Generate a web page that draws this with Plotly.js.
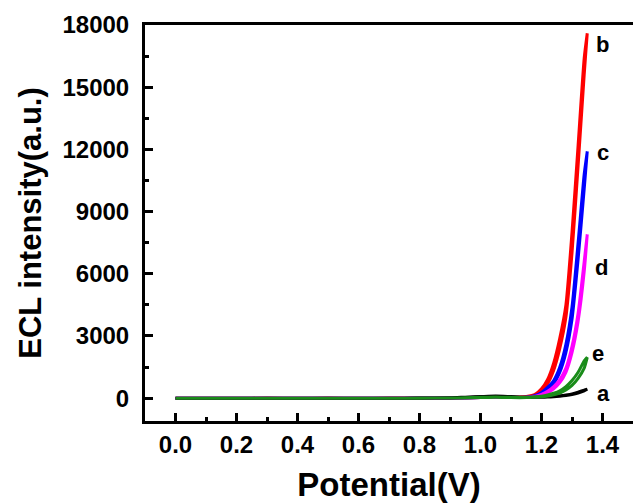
<!DOCTYPE html>
<html>
<head>
<meta charset="utf-8">
<script src="https://cdn.plot.ly/plotly-3.0.1.min.js"></script>
<style>html,body{margin:0;padding:0;background:#fff;}#chart{width:633px;height:503px;}</style>
</head>
<body>
<div id="chart"></div>
<script>
// Potential (V) sampling points, shared by forward and reverse scans
var potential = [0, 0.1, 0.2, 0.3, 0.4, 0.5, 0.6, 0.7, 0.8, 0.9, 0.95, 1.0, 1.05, 1.1, 1.15, 1.18, 1.2, 1.22, 1.24, 1.26, 1.28, 1.3, 1.32, 1.34, 1.35];

// ECL intensity (a.u.), forward and reverse scans
var a_fwd = [0, 0, 0, 0, 0, 0, 0, 0, 5, 20, 50, 80, 110, 80, 50, 50, 60, 70, 90, 120, 160, 210, 290, 390, 430];
var a_rev = [0, 0, 0, 0, 0, 0, 0, 0, 0, 10, 30, 60, 90, 60, 40, 40, 45, 55, 70, 95, 130, 180, 250, 350, 430];
var b_fwd = [0, 0, 0, 5, 0, 5, 0, 5, 5, 10, 20, 40, 60, 40, 80, 200, 450, 900, 1700, 2900, 4500, 8000, 12200, 16400, 17600];
var b_rev = [0, 0, 0, 0, 0, 0, 0, 0, 5, 10, 15, 30, 50, 30, 60, 150, 330, 700, 1350, 2400, 3900, 7000, 11200, 15600, 17600];
var c_fwd = [0, 0, 0, 0, 0, 0, 0, 0, 5, 10, 20, 40, 60, 40, 50, 130, 280, 520, 850, 1500, 2600, 4400, 7500, 10800, 11900];
var c_rev = [0, 0, 0, 0, 0, 0, 0, 0, 0, 10, 15, 30, 50, 30, 40, 100, 220, 420, 700, 1250, 2200, 3800, 6700, 10100, 11900];
var d_fwd = [0, 0, 0, 0, 0, 0, 0, 0, 5, 10, 20, 40, 60, 40, 40, 90, 180, 330, 560, 900, 1450, 2500, 4100, 6600, 7900];
var d_rev = [0, 0, 0, 0, 0, 0, 0, 0, 0, 10, 15, 30, 50, 30, 35, 70, 140, 260, 450, 750, 1250, 2200, 3700, 6100, 7900];
var e_fwd = [0, 0, 0, 0, 0, 0, 0, 0, 5, 10, 20, 40, 60, 40, 40, 70, 100, 160, 240, 360, 560, 850, 1250, 1800, 1970];
var e_rev = [0, 0, 0, 0, 0, 0, 0, 0, 0, 10, 15, 30, 50, 30, 30, 50, 70, 110, 170, 250, 400, 620, 960, 1450, 1970];

var curveNames = ['b', 'c', 'd', 'a', 'e'];
var curveFwd = [b_fwd, c_fwd, d_fwd, a_fwd, e_fwd];
var curveRev = [b_rev, c_rev, d_rev, a_rev, e_rev];
var curveColors = ['#ff0000', '#0000ff', '#ff00ff', '#000000', '#1a8c1a'];

// label tags and where they sit (data coords)
var labelText = ['b', 'c', 'd', 'e', 'a'];
var labelX = [1.40, 1.40, 1.397, 1.385, 1.403];
var labelY = [17050, 11850, 6300, 2150, 250];

var xTickVals = [0, 0.2, 0.4, 0.6, 0.8, 1.0, 1.2, 1.4];
var yTickVals = [0, 3000, 6000, 9000, 12000, 15000, 18000];

var potRev = potential.slice().reverse();
var traces = [];
for (var i = 0; i < curveNames.length; i++) {
  traces.push({
    x: potential.concat(potRev),
    y: curveFwd[i].concat(curveRev[i].slice().reverse()),
    type: 'scatter', mode: 'lines', name: curveNames[i],
    line: {color: curveColors[i], width: 3, shape: 'spline', smoothing: 0.6},
    hoverinfo: 'skip'
  });
}

var fam = '"Liberation Sans", Arial, sans-serif';
var annotations = labelText.map(function (t, k) {
  return {x: labelX[k], y: labelY[k], xref: 'x', yref: 'y', text: t, showarrow: false,
    font: {family: fam, size: 22, color: '#000', weight: 'bold'}};
});

var layout = {
  width: 633, height: 503,
  margin: {l: 145, r: 0, t: 25, b: 82},
  paper_bgcolor: '#fff', plot_bgcolor: '#fff',
  showlegend: false,
  font: {family: fam, color: '#000'},
  xaxis: {
    range: [-0.1, 1.5], tickvals: xTickVals, tickformat: '.1f',
    ticks: 'inside', ticklen: 8, tickwidth: 3, tickcolor: '#000',
    minor: {dtick: 0.1, tick0: 0, ticks: 'inside', ticklen: 4, tickwidth: 3, tickcolor: '#000'},
    showline: true, linewidth: 3, linecolor: '#000', mirror: true,
    showgrid: false, zeroline: false,
    tickfont: {family: fam, size: 24, color: '#000', weight: 'bold'},
    ticklabelstandoff: 0,
    title: {text: 'Potential(V)', font: {family: fam, size: 33, color: '#000', weight: 'bold'}, standoff: 19}
  },
  yaxis: {
    range: [-1100, 18000], tickvals: yTickVals, tickformat: 'd',
    ticks: 'inside', ticklen: 8, tickwidth: 3, tickcolor: '#000',
    minor: {dtick: 1500, tick0: 0, ticks: 'inside', ticklen: 4, tickwidth: 3, tickcolor: '#000'},
    showline: true, linewidth: 3, linecolor: '#000', mirror: false,
    showgrid: false, zeroline: false,
    tickfont: {family: fam, size: 24, color: '#000', weight: 'bold'},
    ticklabelstandoff: 8,
    title: {text: 'ECL intensity(a.u.)', font: {family: fam, size: 31, color: '#000', weight: 'bold'}, standoff: 12}
  },
  annotations: annotations
};

Plotly.newPlot('chart', traces, layout, {displayModeBar: false, staticPlot: true});
</script>
</body>
</html>
